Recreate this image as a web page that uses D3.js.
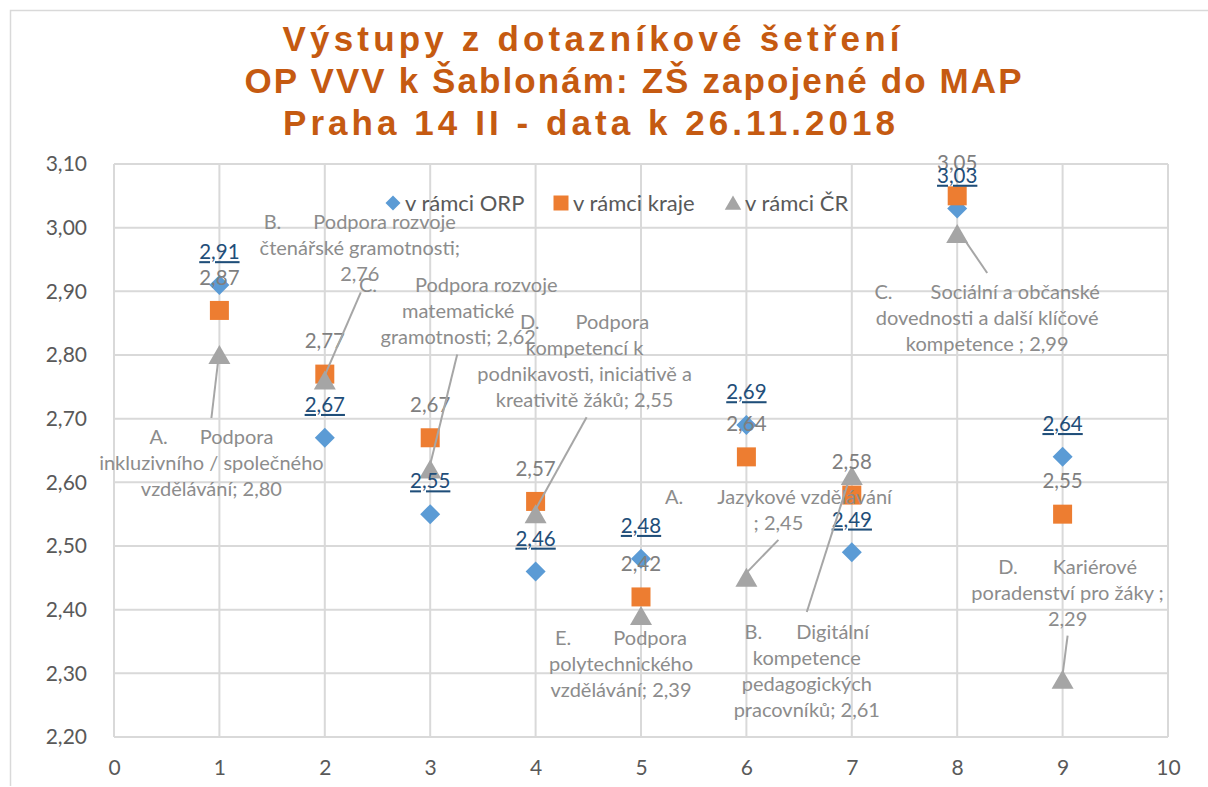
<!DOCTYPE html>
<html>
<head>
<meta charset="utf-8">
<script src="https://cdn.jsdelivr.net/npm/d3@7"></script>
<style>
  body { margin: 0; background: #fff; }
  svg { display: block; }
</style>
</head>
<body>
<div id="chart"></div>
<script>
// data
var titleLines = ["Výstupy z dotazníkové šetření", "OP VVV k Šablonám: ZŠ zapojené do MAP", "Praha 14 II - data k 26.11.2018"];
var xValues = [1, 2, 3, 4, 5, 6, 7, 8, 9];
var orpValues = [2.91, 2.67, 2.55, 2.46, 2.48, 2.69, 2.49, 3.03, 2.64];
var krajValues = [2.87, 2.77, 2.67, 2.57, 2.42, 2.64, 2.58, 3.05, 2.55];
var crValues = [2.80, 2.76, 2.62, 2.55, 2.39, 2.45, 2.61, 2.99, 2.29];
var seriesNames = ["v rámci ORP", "v rámci kraje", "v rámci ČR"];
var yTicks = [2.2, 2.3, 2.4, 2.5, 2.6, 2.7, 2.8, 2.9, 3.0, 3.1];
var xTicks = [0, 1, 2, 3, 4, 5, 6, 7, 8, 9, 10];
// category labels of the ČR series ("|" = tab gap, {v} = value)
var crLabelLines = [
    ["A.|Podpora", "inkluzivního / společného", "vzdělávání; {v}"],
    ["B.|Podpora rozvoje", "čtenářské gramotnosti;", "{v}"],
    ["C.|Podpora rozvoje", "matematické", "gramotnosti; {v}"],
    ["D.|Podpora", "kompetencí k", "podnikavosti, iniciativě a", "kreativitě žáků; {v}"],
    ["E.|Podpora", "polytechnického", "vzdělávání; {v}"],
    ["A.|Jazykové vzdělávání", "; {v}"],
    ["B.|Digitální", "kompetence", "pedagogických", "pracovníků; {v}"],
    ["C.|Sociální a občanské", "dovednosti a další klíčové", "kompetence ; {v}"],
    ["D.|Kariérové", "poradenství pro žáky ;", "{v}"]
];

// where the ČR labels were dragged to (pixel offsets from the marker)
var crLabelPos = [
    {dx: -8, dy: 82, gap: 32, lead: [-8, 63]},
    {dx: 35, dy: -158, gap: 32, lead: [36, -88]},
    {dx: 28, dy: -185, gap: 38, lead: [27, -115]},
    {dx: 49, dy: -192, gap: 36, lead: [51, -97]},
    {dx: -20, dy: 22, gap: 42, lead: null},
    {dx: 32, dy: -81, gap: 34, lead: [32, -38]},
    {dx: -45, dy: 156, gap: 34, lead: [-45, 136]},
    {dx: 30, dy: 58, gap: 38, lead: [30, 39]},
    {dx: 5, dy: -113, gap: 35, lead: [5, -44]}
];

var W = 1208, H = 787;
var font = "Lato, 'Open Sans', sans-serif";
var fmt = function(v) { return v.toFixed(2).replace(".", ","); };

var svg = d3.select("#chart").append("svg")
    .attr("width", W).attr("height", H);

// chart frame
svg.append("path")
    .attr("d", "M10.5,786V10.5H1208")
    .attr("fill", "none").attr("stroke", "#d9d9d9").attr("stroke-width", 1.5);

// title (letter-spaced)
var titleX = [591, 633, 589], titleW = [617, 777, 612];
svg.append("g")
    .selectAll("text")
    .data(titleLines)
  .enter()
    .append("text")
    .attr("x", function(d, i) { return titleX[i]; })
    .attr("y", function(d, i) { return 51 + i * 42; })
    .attr("text-anchor", "middle")
    .attr("textLength", function(d, i) { return titleW[i]; })
    .attr("lengthAdjust", "spacing")
    .style("font-family", "'Liberation Sans', Arial, sans-serif")
    .style("font-weight", "bold")
    .style("font-size", "35px")
    .style("fill", "#c55a11")
    .text(function(d) { return d; });

var x = d3.scaleLinear().domain([0, 10]).range([114, 1168]);
var y = d3.scaleLinear().domain([2.2, 3.1]).range([737, 164]);

// gridlines
var grid = svg.append("g").attr("stroke", "#d9d9d9").attr("stroke-width", 2);
grid.selectAll("line.h")
    .data(yTicks)
  .enter()
    .append("line")
    .attr("x1", x(0)).attr("x2", x(10))
    .attr("y1", function(d) { return y(d); })
    .attr("y2", function(d) { return y(d); });
grid.selectAll("line.v")
    .data(xTicks)
  .enter()
    .append("line")
    .attr("y1", y(2.2)).attr("y2", y(3.1))
    .attr("x1", function(d) { return x(d); })
    .attr("x2", function(d) { return x(d); });

// axes
var yAxis = svg.append("g")
    .attr("transform", "translate(" + (x(0) - 24) + ",0)")
    .call(d3.axisLeft(y).tickValues(yTicks).tickSize(0).tickFormat(fmt));
var xAxis = svg.append("g")
    .attr("transform", "translate(0," + (y(2.2) + 20) + ")")
    .call(d3.axisBottom(x).tickValues(xTicks).tickSize(0).tickFormat(d3.format("d")));
[yAxis, xAxis].forEach(function(ax) {
    ax.select(".domain").remove();
    ax.selectAll("text")
        .style("font-family", font)
        .style("font-size", "21px")
        .style("fill", "#595959");
});

// marker shapes
function diamond(cx, cy, r) {
    return "M" + cx + "," + (cy - r) + "L" + (cx + r) + "," + cy + "L" + cx + "," + (cy + r) + "L" + (cx - r) + "," + cy + "Z";
}
function square(cx, cy, r) {
    return "M" + (cx - r) + "," + (cy - r) + "h" + (2 * r) + "v" + (2 * r) + "h" + (-2 * r) + "Z";
}
function triangle(cx, cy, r) {
    return "M" + cx + "," + (cy - r) + "L" + (cx + r * 1.1) + "," + (cy + r * 0.9) + "L" + (cx - r * 1.1) + "," + (cy + r * 0.9) + "Z";
}

var series = [
    {values: orpValues, color: "#5b9bd5", shape: diamond, r: 10},
    {values: krajValues, color: "#ed7d31", shape: square, r: 9.5},
    {values: crValues, color: "#a5a5a5", shape: triangle, r: 10}
];

series.forEach(function(s) {
    svg.append("g").selectAll("path")
        .data(s.values)
      .enter()
        .append("path")
        .attr("d", function(d, i) { return s.shape(x(xValues[i]), y(d), s.r); })
        .attr("fill", s.color);
});

// legend
var legendX = [393, 561, 733];
var legend = svg.append("g");
series.forEach(function(s, i) {
    legend.append("path")
        .attr("d", s.shape(legendX[i], 203, 7.5))
        .attr("fill", s.color);
    legend.append("text")
        .attr("x", legendX[i] + 12)
        .attr("y", 203)
        .attr("dy", "0.35em")
        .style("font-family", font)
        .style("font-size", "22px")
        .style("fill", "#595959")
        .text(seriesNames[i]);
});

// data labels: ORP (underlined, dark blue) and kraj (gray), above markers
svg.append("g").selectAll("text")
    .data(krajValues)
  .enter()
    .append("text")
    .attr("x", function(d, i) { return x(xValues[i]); })
    .attr("y", function(d) { return y(d) - 33; })
    .attr("dy", "0.35em")
    .attr("text-anchor", "middle")
    .style("font-family", font)
    .style("font-size", "20.5px")
    .style("fill", "#7f7f7f")
    .text(fmt);

svg.append("g").selectAll("text")
    .data(orpValues)
  .enter()
    .append("text")
    .attr("x", function(d, i) { return x(xValues[i]); })
    .attr("y", function(d) { return y(d) - 33; })
    .attr("dy", "0.35em")
    .attr("text-anchor", "middle")
    .style("font-family", font)
    .style("font-size", "20.5px")
    .style("fill", "#1f4e79")
    .style("text-decoration", "underline")
    .text(fmt);

// ČR labels with leader lines
var crG = svg.append("g");
crValues.forEach(function(v, i) {
    var px = x(xValues[i]), py = y(v), p = crLabelPos[i];
    if (p.lead) {
        crG.append("line")
            .attr("x1", px + p.lead[0]).attr("y1", py + p.lead[1])
            .attr("x2", px).attr("y2", py - 5)
            .attr("stroke", "#a6a6a6").attr("stroke-width", 2);
    }
    crLabelLines[i].forEach(function(line, j) {
        var t = crG.append("text")
            .attr("x", px + p.dx)
            .attr("y", py + p.dy + j * 26)
            .attr("dy", "0.35em")
            .attr("text-anchor", "middle")
            .style("font-family", font)
            .style("font-size", "20px")
            .style("fill", "#8c8c8c");
        line = line.replace("{v}", fmt(v));
        var parts = line.split("|");
        t.append("tspan").text(parts[0]);
        if (parts.length > 1) {
            t.append("tspan").attr("dx", p.gap).text(parts[1]);
        }
    });
});
</script>
</body>
</html>
